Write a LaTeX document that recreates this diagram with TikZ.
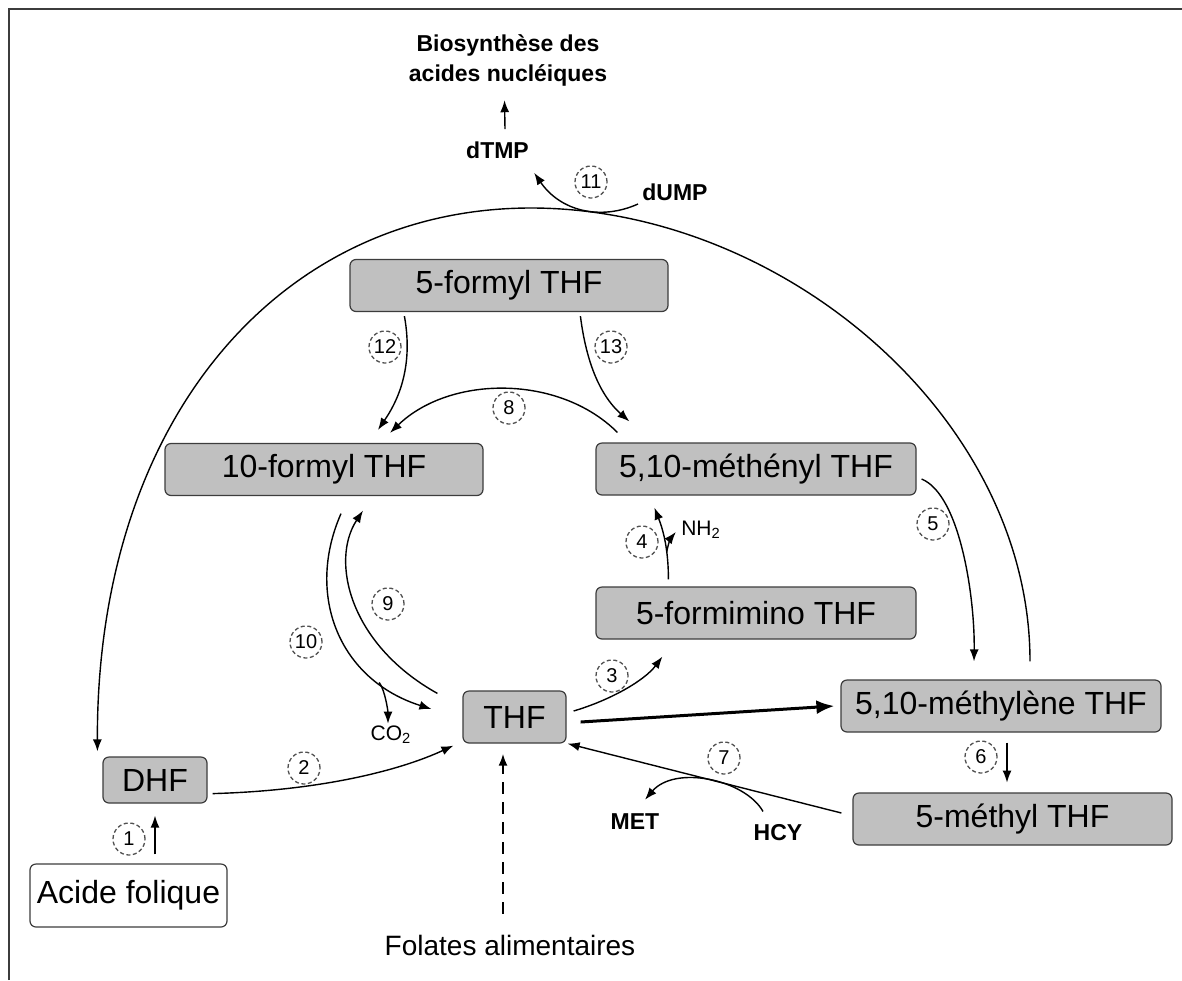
\documentclass[tikz,border=0pt]{standalone}
\usepackage{fontspec}
\setmainfont{Liberation Sans}
\usepackage{xcolor}
\definecolor{grisboite}{HTML}{C0C0C0}
\definecolor{grisbord}{HTML}{3C3C3C}
\definecolor{grispoint}{HTML}{505050}
\def\couleurboite{grisboite}
\usetikzlibrary{calc,positioning,arrows.meta}

\begin{document}
\begin{tikzpicture}[x=0.5pt,y=-0.5pt]
			\tikzset{
				boite/.style={draw=grisbord,fill=\couleurboite,rounded corners=3pt,line width=0.6pt,inner sep=0pt,minimum height=26pt,font=\fontsize{16}{19}\selectfont},
				etape/.style={circle,draw=grispoint,dash pattern=on 2pt off 1.3pt,line width=0.65pt,minimum size=16pt,inner sep=0pt,font=\fontsize{10}{11}\selectfont},
				molecule/.style={inner sep=1pt,font=\bfseries\fontsize{11.5}{15}\selectfont},
				petit/.style={inner sep=1pt,font=\fontsize{10.5}{12}\selectfont},
				fleche/.style={line width=0.7pt,-{Latex[length=6pt,width=4.5pt]}},
				grossefleche/.style={line width=1.5pt,-{Latex[length=9pt,width=7pt]}}
			}
		\useasboundingbox (0,0) rectangle (1182,980);
		%%%cadre
		\draw[grisbord,line width=1pt] (9,980) -- (9,9) -- (1182,9);
		%%%les boites
		\path (509,285.5) node[boite,minimum width=159pt] (b5f) {5-formyl THF};
		\path (324,469.5) node[boite,minimum width=159pt] (b10f) {10-formyl THF};
		\path (756,469) node[boite,minimum width=160pt] (bmeth) {5,10-méthényl THF};
		\path (756,613) node[boite,minimum width=160pt] (bfim) {5-formimino THF};
		\path (514.5,717) node[boite,minimum width=51.5pt] (thf) {THF};
		\path (1001,706) node[boite,minimum width=160pt] (bmlene) {5,10-méthylène THF};
		\path (1012.5,819) node[boite,minimum width=159.5pt] (bmyl) {5-méthyl THF};
		\path (155,780) node[boite,minimum width=52pt,minimum height=23pt] (dhf) {DHF};
		\path (128.5,895.5) node[boite,fill=white,minimum width=98.5pt,minimum height=31.5pt] (acf) {Acide folique};
		%%%les textes
		\path (508,60) node[molecule,align=center] (bio) {Biosynthèse des\\acides nucléiques};
		\path (497.5,150) node[molecule] (dtmp) {dTMP};
		\path (675,192) node[molecule] (dump) {dUMP};
		\path (635,822) node[molecule] (met) {MET};
		\path (778,833) node[molecule] (hcy) {HCY};
		\path (391,735) node[petit] (co2) {CO\textsubscript{2}};
		\path (701,530) node[petit] (nh2) {NH\textsubscript{2}};
		\path (510,945) node[font=\fontsize{14}{16}\selectfont] (fol) {Folates alimentaires};
		%%%les etapes
		\foreach \n/\x/\y in {1/129/839,2/304/768,3/612/676,4/642/542,5/933/524,6/981/757,7/724/758,8/509/408,9/388/604,10/306/642,11/591/182,12/385/347,13/611/347}{%
			\path (\x,\y) node[etape] (e\n) {\n};
		}
		%%%le grand arc
		\coordinate (sommet) at (531,208);
		\draw[fleche] ($(bmlene.north)+(29,-18)$) .. controls +(0,-245) and +(251,0) .. (sommet)
			.. controls +(-251,0) and +(-1,-332) .. ($(dhf.north west)+(-5,-5)$);
		%%%1 et 2
		\draw[fleche,shorten <=4.5pt,shorten >=6pt] (acf.north -| dhf.south) -- (dhf.south);
		\draw[fleche] ($(dhf.south east)+(5,-10)$) .. controls +(108,-3) and +(-54,25) .. ($(thf.south west)+(-9,2)$);
		%%%3 et la grosse fleche
		\draw[fleche] ($(thf.east)+(7,-6)$) .. controls +(37,-11) and +(-18,24) .. ($(bfim.south west)+(67,17)$);
		\draw[grossefleche] ($(thf.east)+(14,5)$) -- ($(bmlene.west)+(-6,0)$);
		%%%4
		\draw[fleche] ($(bfim.north west)+(73,-7)$) .. controls +(0,-35) and +(7,18) .. ($(bmeth.south west)+(59,12)$) coordinate[pos=0.3] (c4);
		\draw[fleche] (c4) .. controls +(2,-10) and +(-5,6) .. ($(nh2.west)+(-3,2)$);
		%%%5 et 6
		\draw[fleche] ($(bmeth.east)+(5,10)$) .. controls +(39,16) and +(1,-62) .. ($(bmlene.north)+(-27,-18)$);
		\draw[fleche] ($(bmlene.south)+(6,10)$) -- ($(bmlene.south)+(6,50)$);
		%%%7
		\draw[fleche] ($(bmyl.west)+(-11,-6)$) -- ($(thf.south east)+(1,0)$);
		\draw[fleche] ($(hcy.north)+(-15,-11)$) .. controls +(-18,-32) and +(30,-35) .. ($(met.north)+(10,-12)$);
		%%%8, 12 et 13
		\draw[fleche] ($(bmeth.north west)+(22,-10)$) .. controls +(-58,-58) and +(60,-58) .. ($(b10f.north)+(66,-10)$);
		\draw[fleche] ($(b5f.south west)+(55,4)$) .. controls +(10,55) and +(17,-25) .. ($(b10f.north)+(54,-13)$);
		\draw[fleche] ($(b5f.south west)+(231,4)$) .. controls +(7,55) and +(-25,-22) .. ($(bmeth.north west)+(34,-21)$);
		%%%9 et 10
		\draw[fleche] ($(thf.north west)+(-25,3)$) .. controls +(-88,-49) and +(-33,50) .. ($(b10f.south)+(39,14.5)$);
		\draw[fleche] ($(b10f.south)+(17,17.5)$) .. controls +(-36,82) and +(-92,-29) .. ($(thf.west)+(-31,-8)$) coordinate[pos=0.78] (c10);
		\draw[fleche] (c10) .. controls +(6,8) and +(0,-12) .. ($(co2.north)+(-3,0)$);
		%%%11
		\draw[fleche] ($(dump.west)+(-2,12)$) .. controls +(-38,17) and +(26,38) .. ($(dtmp.south east)+(3,12)$);
		\draw[fleche] ($(dtmp.north)+(7.5,-10)$) -- ($(bio.south)+(-3.5,12)$);
		%%%folates
		\draw[fleche,dash pattern=on 6pt off 4pt,line width=1.1pt] ($(fol.north)+(-7,-14)$) -- ($(thf.south)+(-11.5,10)$);
	\end{tikzpicture}
\end{document}
